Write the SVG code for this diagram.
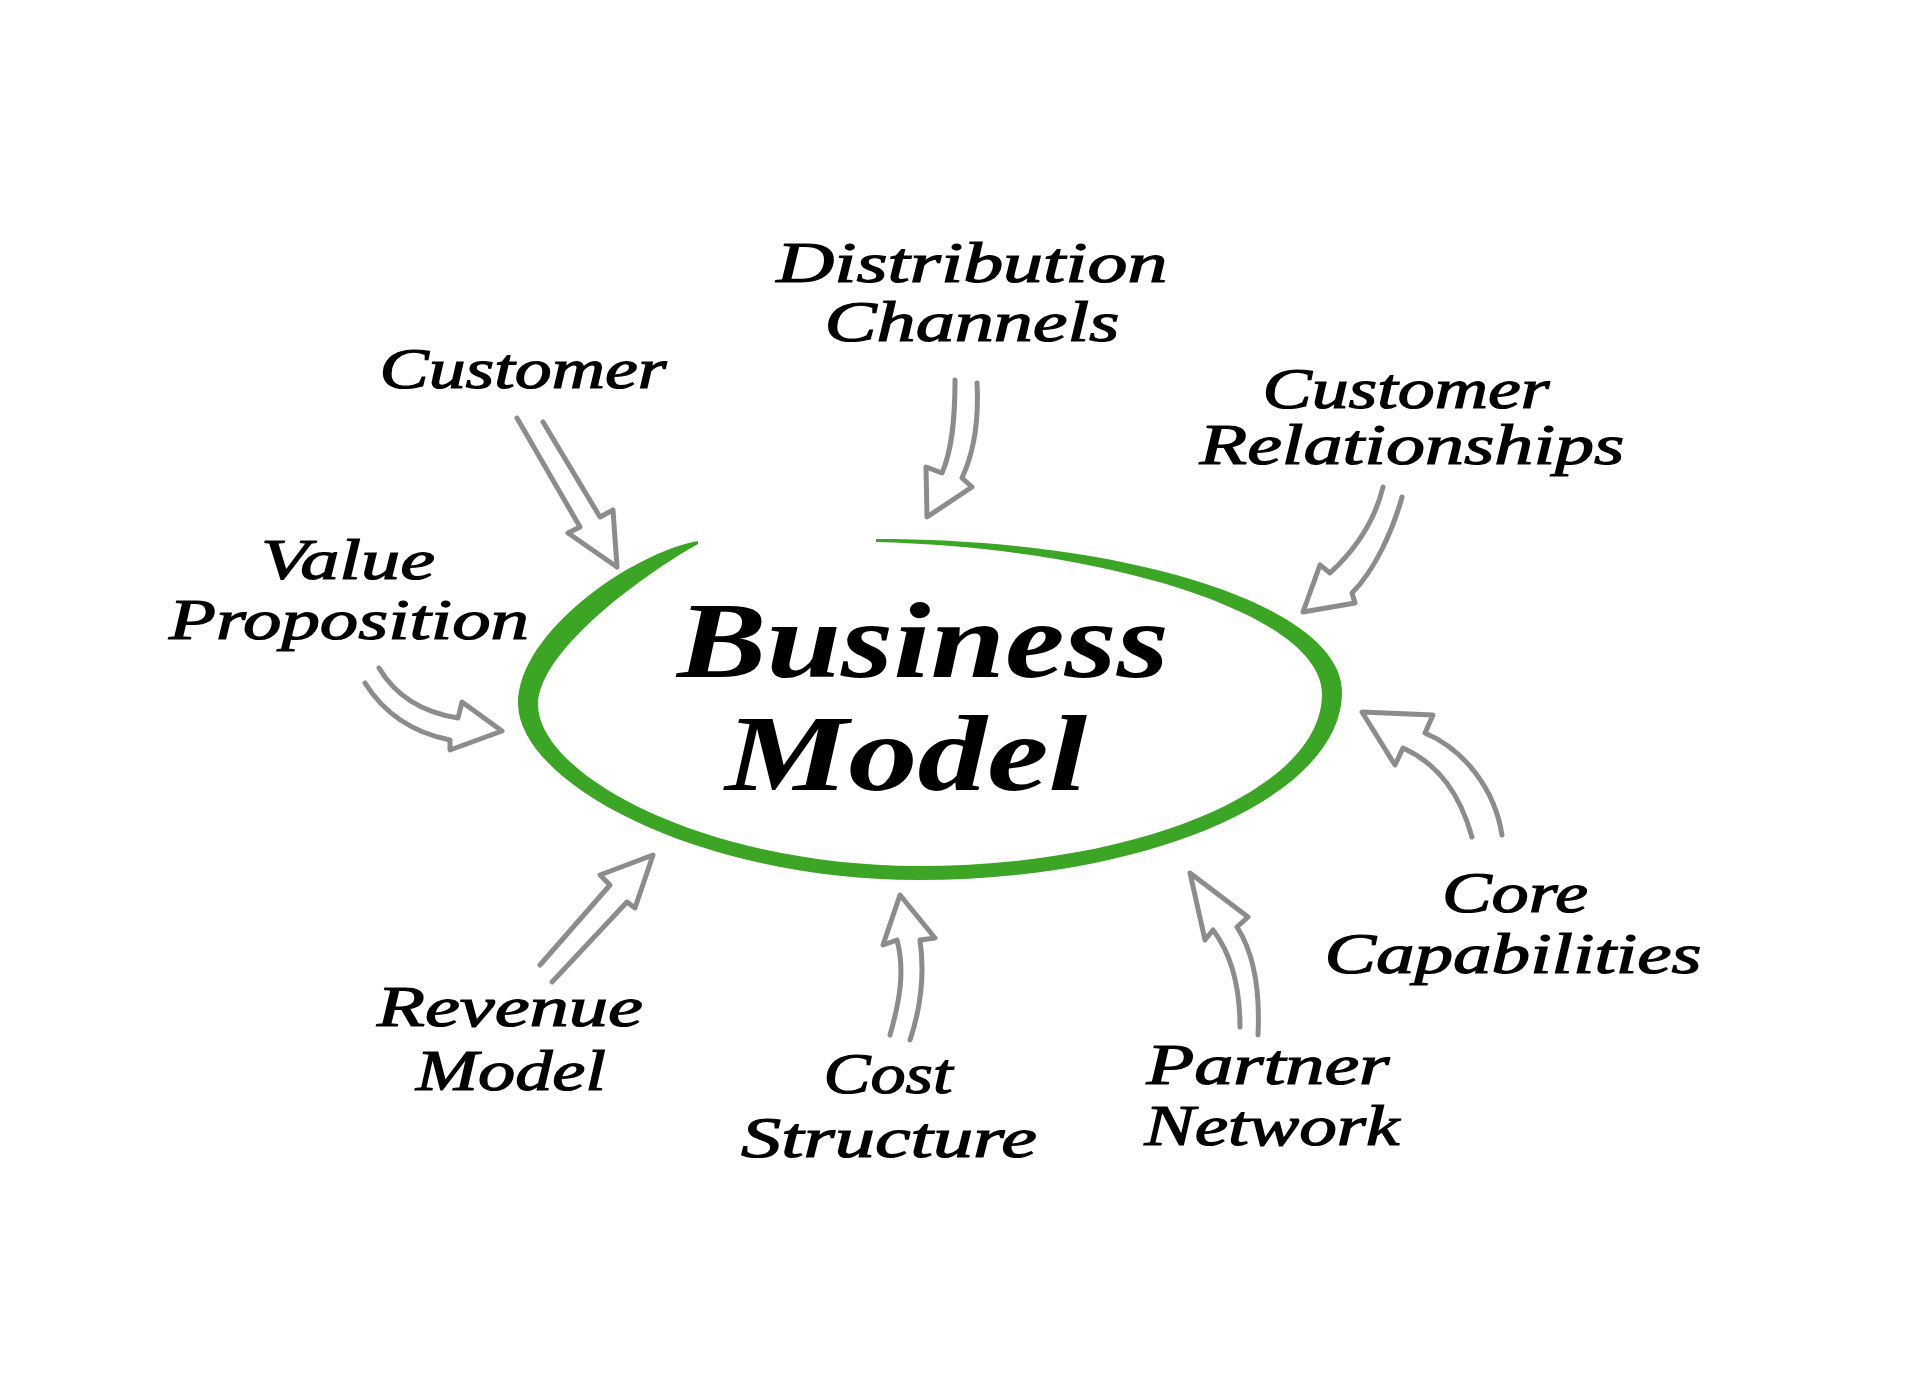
<svg xmlns="http://www.w3.org/2000/svg" width="1920" height="1378" viewBox="0 0 1920 1378">
<style>
.lbl{font-family:"Liberation Serif","DejaVu Serif",serif;font-style:italic;font-size:56px;fill:#000;stroke:#000;stroke-width:1.2px;text-anchor:middle}
.big{font-family:"Liberation Serif","DejaVu Serif",serif;font-style:italic;font-weight:bold;font-size:108px;fill:#000;text-anchor:middle}
.arr{fill:none;stroke:#8c8c8c;stroke-width:5;stroke-linejoin:round;stroke-linecap:round}
</style>
<rect width="1920" height="1378" fill="#fff"/>
<g id="center">
<path fill="#3ca526" d="M876,539 C1132,539 1342,607 1342,692 C1342,796 1151,880 918,880 C699,880 519,783 518,704 C518,632 632,553 698,541 L698,544 C648,572 540,648 538,704 C538,776 708,866 918,866 C1142,866 1322,789 1322,694 C1322,615 1110,548 876,542 Z"/>
<text class="big" x="923" y="677" textLength="492" lengthAdjust="spacingAndGlyphs">Business</text>
<text class="big" x="906" y="790" textLength="362" lengthAdjust="spacingAndGlyphs">Model</text>
</g>
<g id="connectors">
<path class="arr" d="M955,380 C955,420 952,450 942,473 L926,467 L927,517 L972,487 L962,478 C975,450 979,420 977,383"/>
<path class="arr" d="M517,418 L580,527 L568,533 L617,567 L613,510 L600,517 L543,422"/>
<path class="arr" d="M1383,487 C1375,520 1355,550 1330,573 L1320,565 L1303,612 L1355,603 L1352,593 C1375,570 1393,530 1402,497"/>
<path class="arr" d="M379,668 C395,695 420,712 458,718 L462,702 L502,731 L450,750 L450,740 C415,733 385,715 365,683"/>
<path class="arr" d="M540,965 L610,885 L600,875 L653,855 L635,908 L627,902 L552,982"/>
<path class="arr" d="M890,1035 C900,1000 905,970 897,940 L883,945 L900,895 L935,938 L920,940 C925,975 920,1010 910,1040"/>
<path class="arr" d="M1240,1027 C1240,990 1232,955 1213,930 L1205,940 L1190,873 L1248,917 L1237,927 C1255,955 1260,995 1258,1035"/>
<path class="arr" d="M1472,837 C1460,795 1440,765 1403,748 L1395,765 L1362,712 L1433,715 L1425,733 C1465,750 1495,790 1502,835"/>
</g>
<g id="distribution-channels">
<text class="lbl" x="972" y="282" textLength="391" lengthAdjust="spacingAndGlyphs">Distribution</text>
<text class="lbl" x="972" y="341" textLength="295" lengthAdjust="spacingAndGlyphs">Channels</text>
</g>
<g id="customer">
<text class="lbl" x="523" y="388" textLength="287" lengthAdjust="spacingAndGlyphs">Customer</text>
</g>
<g id="customer-relationships">
<text class="lbl" x="1406" y="408" textLength="287" lengthAdjust="spacingAndGlyphs">Customer</text>
<text class="lbl" x="1412" y="464" textLength="425" lengthAdjust="spacingAndGlyphs">Relationships</text>
</g>
<g id="value-proposition">
<text class="lbl" x="348" y="579" textLength="174" lengthAdjust="spacingAndGlyphs">Value</text>
<text class="lbl" x="349" y="639" textLength="360" lengthAdjust="spacingAndGlyphs">Proposition</text>
</g>
<g id="revenue-model">
<text class="lbl" x="510" y="1026" textLength="266" lengthAdjust="spacingAndGlyphs">Revenue</text>
<text class="lbl" x="511" y="1090" textLength="190" lengthAdjust="spacingAndGlyphs">Model</text>
</g>
<g id="cost-structure">
<text class="lbl" x="888" y="1093" textLength="129" lengthAdjust="spacingAndGlyphs">Cost</text>
<text class="lbl" x="889" y="1157" textLength="296" lengthAdjust="spacingAndGlyphs">Structure</text>
</g>
<g id="partner-network">
<text class="lbl" x="1268" y="1084" textLength="243" lengthAdjust="spacingAndGlyphs">Partner</text>
<text class="lbl" x="1272" y="1145" textLength="255" lengthAdjust="spacingAndGlyphs">Network</text>
</g>
<g id="core-capabilities">
<text class="lbl" x="1515" y="912" textLength="146" lengthAdjust="spacingAndGlyphs">Core</text>
<text class="lbl" x="1513" y="973" textLength="377" lengthAdjust="spacingAndGlyphs">Capabilities</text>
</g>
</svg>
